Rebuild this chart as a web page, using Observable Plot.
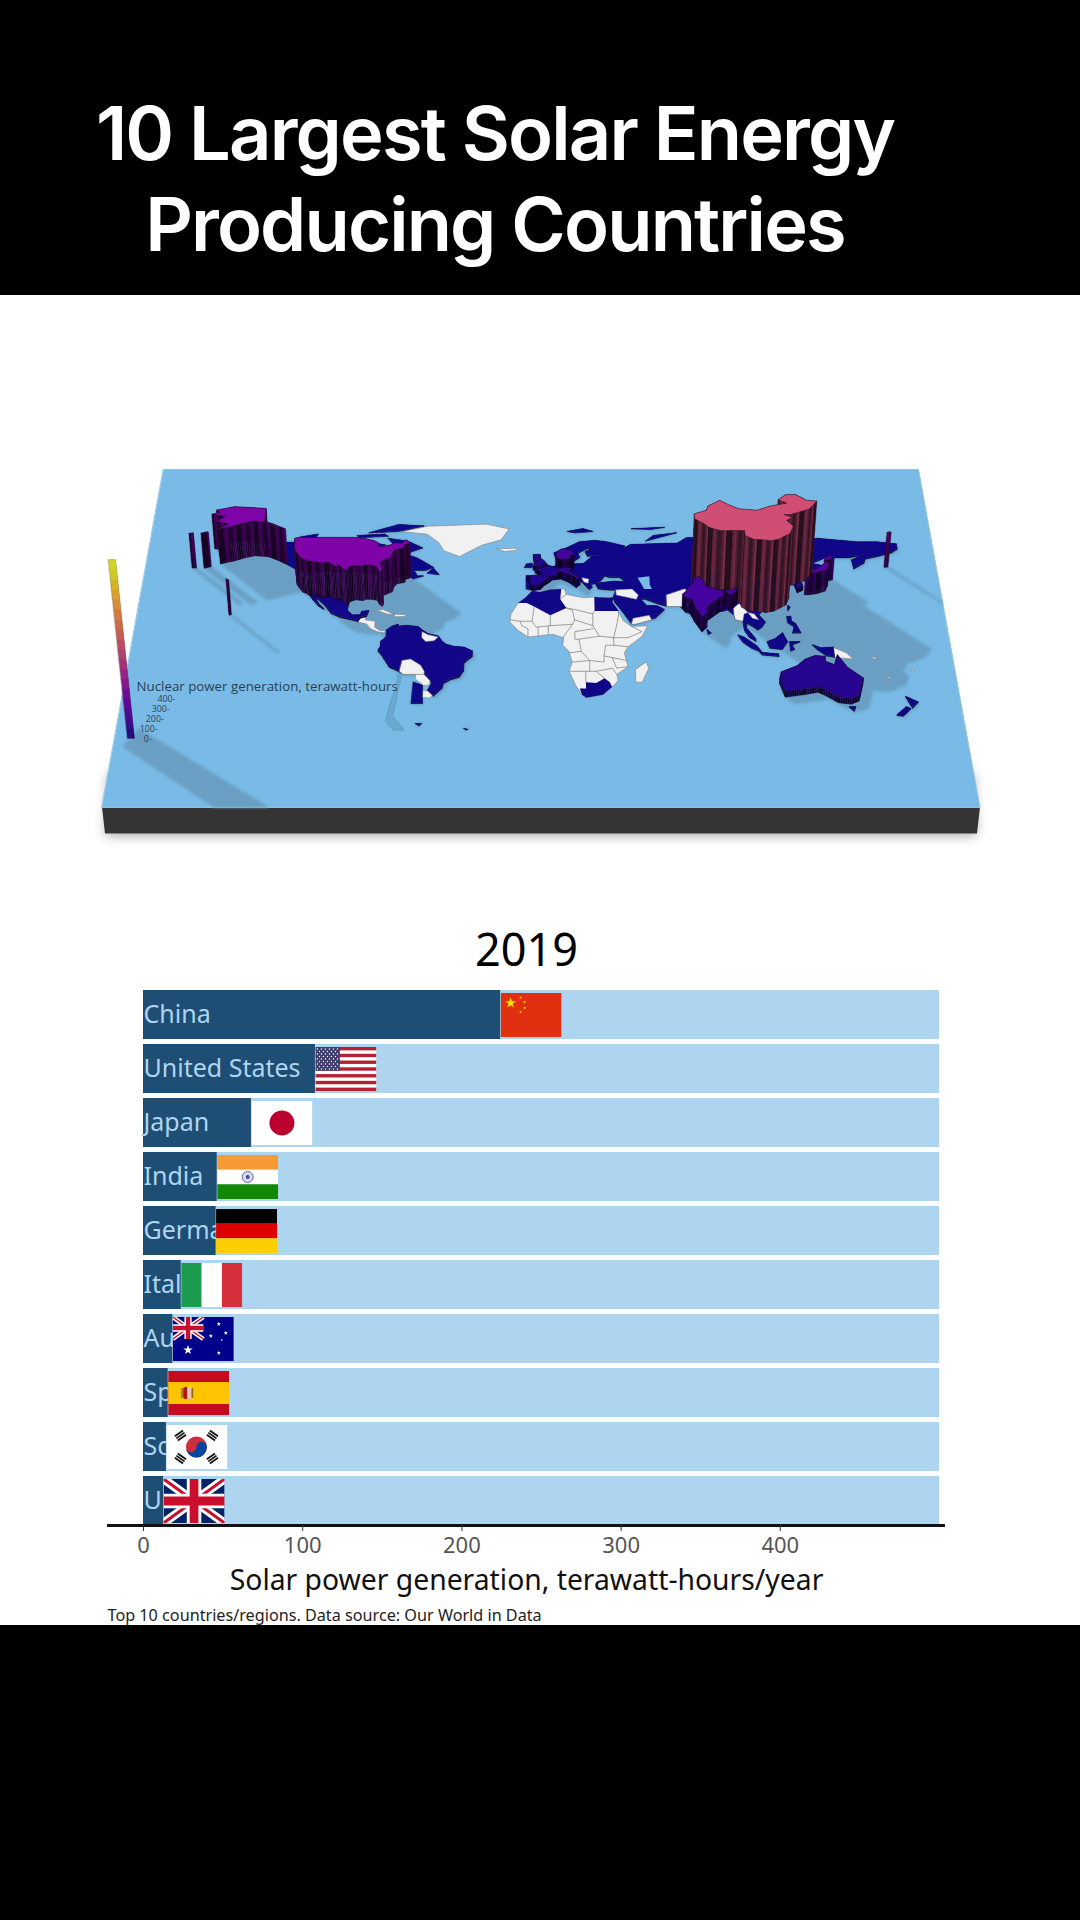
<!DOCTYPE html>
<html><head><meta charset="utf-8">
<script src="https://cdn.jsdelivr.net/npm/d3@7"></script>
<script src="https://cdn.jsdelivr.net/npm/@observablehq/plot@0.6"></script>
<style>
html,body{margin:0;padding:0;background:#fff;width:1080px;height:1920px;overflow:hidden}
#top,#bottom{position:absolute;left:0;width:1080px;background:#000;z-index:5}
#top{top:0;height:295px}
#bottom{top:1625px;height:295px}
#top div{position:absolute;left:0;width:990px;text-align:center;color:#fff;font:600 74px Inter,sans-serif;letter-spacing:-1.85px;line-height:91px;white-space:nowrap}
#map,#bars{position:absolute;left:0}
#map{top:440px}
#bars{top:925px}
svg{display:block;overflow:visible}
.soft{filter:blur(6px)}
.softer{filter:blur(1.6px)}
</style></head><body>
<div id="top"><div style="top:88px">10 Largest Solar Energy</div><div style="top:179px">Producing Countries</div></div>
<div id="map"></div><div id="bars"></div><div id="bottom"></div>
<script>
// ---- Bar data ----
const countries=["China","United States","Japan","India","Germany","Italy","Australia","Spain","South Korea","United Kingdom"];
const solarTWh=[224.3,108,67.8,46.3,45.6,23.7,18.4,15.5,14.4,12.6];
const xTicks=[0,100,200,300,400];
const yearLabel="2019";
const xMax=500;

// ---- Map outlines (lon, lat) ----
const greenland=[[-73,78],[-60,82],[-30,83.5],[-18,80],[-22,72],[-32,68],[-43,60],[-51,64],[-54,70],[-60,76]];
const iceland=[[-24,65.5],[-14,66],[-14,64.5],[-20,63.5]];
const africa=[[-6,35.8],[-2,35],[3,36.8],[10,37.3],[11,33.5],[15,32.3],[20,31],[25,31.5],[32,31],[34.5,31.3],[34,28],[37,21],[39,15.5],[43,11.5],[51,12],[48,5],[41,-2],[39,-6],[40.5,-15],[35,-20],[35.5,-24],[32.5,-28],[28,-33],[20,-34.8],[18,-33],[15,-27],[12,-18],[13.5,-12],[12,-5],[9,-1],[9.5,4],[4,6.3],[-4,5],[-8,4.5],[-13,9],[-17,14.5],[-16.5,20],[-13,27.5],[-9.5,31]];
const madagascar=[[49.5,-12],[50.5,-16],[47,-25],[44,-25],[44,-17]];
const centralAmerica=[[-92,14.6],[-91,17],[-88,18],[-88.5,16],[-83.5,15],[-83.5,11],[-81,9],[-77.5,8.5],[-79,7.5],[-82,8],[-85.5,10],[-87.5,13]];
const cuba=[[-85,22],[-80,23],[-74.5,20],[-77.5,19.8],[-82,22]];
const hispaniola=[[-74,19.8],[-69,19.5],[-68.5,18.3],[-74,18]];
const png=[[141,-2.5],[147,-6],[150,-10],[141,-9]];
const pacificIsles=[[[165,-21],[167,-22],[166,-22.5]],[[177,-17],[179,-18],[177.5,-18.5]],[[159,-8],[162,-10],[160,-10]]];
const whiteShapes=[greenland,iceland,africa,madagascar,centralAmerica,cuba,hispaniola,png,...pacificIsles];

const eurasia=[[5,62],[12,66],[18,70],[26,71],[32,70],[41,67],[40,65],[44,68],[54,68.5],[68,69],[73,73],[80,73],[90,75.5],[105,77.5],[113,74],[130,71],[140,72.5],[160,70],[170,70],[180,68.5],[180,65],[177,62.5],[170,60],[163,58],[162,55],[156.5,51],[156,57],[163,61],[155,59],[143,59],[135,54.5],[141,53],[140,48],[135,43.5],[130,42.5],[127.5,39.5],[129,36],[126.5,34.5],[126,37.5],[125,40],[121,39],[118,39],[122,37],[119,35],[122,31],[120,26],[114,22],[110,21],[108,21.5],[106,19],[109,14],[107,10.5],[105,9],[103,11],[100,13.5],[99.5,10],[103.5,3],[103.5,1.5],[100.5,4],[98.5,8.5],[98,15],[94.5,16],[94,19],[91,22.5],[87,21.5],[80,15],[80,11],[77.5,8],[73,18],[72,21],[67,25],[61,25],[57,26.5],[50,30],[48,29.5],[51,25],[56,25],[59.5,22.5],[55,17],[45,13],[43,13],[39,21],[35,28],[34.5,31],[36,36],[30,36.5],[27,37],[26,40],[29,41],[35,42],[41,41.5],[38,45],[33,45],[30.5,46],[28,42],[26,40.7],[23,40],[24,38],[22.5,36.5],[19.5,41],[14,45.5],[12.5,44],[18,40],[16,38],[12,42],[8.5,44],[4,43.5],[3,42],[0,39.5],[-2,36.8],[-5.5,36],[-9,37],[-9,43],[-2,43.5],[-1.5,46],[-4.5,48.3],[-1.5,49],[2,51],[4,52],[8,54],[8,57],[10.5,57.5],[10,54.5],[14,54],[20,54.5],[24,59],[30,60],[22,60],[21,63],[25,65.5],[22,65.5],[17,62],[18,59],[14,55.5],[11,59],[6,58]];
const canada=[[-141,69.7],[-128,70],[-115,68],[-108,68],[-95,68],[-94,72],[-85,69],[-81,68],[-87,64],[-94,60],[-92.5,57],[-85,55.3],[-82,52.5],[-79,51.5],[-79,55],[-76.5,57],[-78,62],[-70,61],[-65,59],[-61,56],[-56,52],[-60,50],[-66,50],[-65,48.5],[-64,46],[-61,46],[-66,44],[-67,45],[-69,47.3],[-71,45],[-75,45],[-76,44],[-79,43],[-82.5,42.5],[-82.5,45],[-84.5,46.5],[-89,48],[-95,49],[-123,49],[-130,54],[-133,56],[-137,58.9],[-141,60.3]];
const baffin=[[-80,73],[-70,71],[-62,66],[-68,63],[-75,65],[-78,70]];
const victoria=[[-117,73],[-105,73],[-102,69],[-115,69]];
const ellesmere=[[-90,77],[-75,83],[-62,82],[-75,78]];
const banks=[[-125,74],[-116,76],[-118,72],[-124,71.5]];
const devon=[[-96,75],[-82,76],[-80,74.5],[-95,73.5]];
const newfoundland=[[-59,48],[-53,47],[-56,51.5]];
const mexico=[[-117.1,32.5],[-114.8,32.5],[-111,31.3],[-106.5,31.8],[-104.5,29.7],[-103,29],[-101.5,29.8],[-99.5,27.5],[-97.3,26],[-97.8,22],[-95,18.5],[-91,18.7],[-90.5,21],[-87,21.5],[-88,18],[-91,17],[-92,14.6],[-96,16],[-101,17.5],[-105.5,20],[-109,25.5],[-112.5,29.5],[-114.5,31],[-112,26],[-109.5,23],[-112,25],[-115,29]];
const southAmerica=[[-77.5,8.5],[-75,11],[-72,12.2],[-71.5,11],[-68,11.5],[-62,10.7],[-60,8.5],[-57,6],[-52,4.5],[-50,1],[-48,-1],[-44,-2.5],[-39,-3],[-35,-5.5],[-35,-8.5],[-39,-13],[-39,-18],[-41,-22],[-45,-23.5],[-48.5,-26],[-49,-29],[-53,-34],[-56,-31],[-54,-26],[-55,-24],[-58,-20],[-68,-20],[-70.3,-18.3],[-75,-15.5],[-79,-8],[-81,-5],[-80,-2.5],[-80,1],[-78.5,2.5],[-77.5,4],[-77.5,7]];
const argentina=[[-63,-25],[-58.5,-27],[-58,-38.6],[-63.5,-38.6]];
const sumatra=[[95,5.5],[98,4],[104,-2],[106,-6],[101,-3],[97,1]];
const java=[[105,-6],[114,-7],[114,-8.5],[106,-7.5]];
const borneo=[[109,1],[113,3],[117,7],[119,1],[116,-4],[110,-3]];
const sulawesi=[[120,1],[125,1],[121,-1],[122,-4],[120,-5]];
const westPapua=[[131,-1],[135,-3],[141,-2.5],[141,-9],[137,-8],[133,-4]];
const philippines=[[120,18],[122,18],[122,15],[124,13],[126,7],[122,7],[123,11],[120,14]];
const sriLanka=[[80,9.5],[82,7],[80.5,6]];
const sakhalin=[[142,54],[143,50],[143,46],[142,50]];
const taiwan=[[121,25],[122,24],[120.8,22]];
const svalbard=[[12,78],[20,80],[25,78],[16,77]];
const novayaZemlya=[[52,71],[68,77],[56,75]];
const severnaya=[[95,79],[105,79],[100,81]];
const franzJosef=[[45,80],[62,81],[55,79.5]];
const ireland=[[-10,52],[-6,52],[-6,55],[-9,54.5]];
const falkland=[[-61,-51],[-58,-51],[-59,-52.5]];
const georgia=[[-38,-54],[-36,-54.5],[-37,-55]];
const nzNorth=[[172.5,-34.5],[178,-38],[175,-41.5],[174,-39]];
const nzSouth=[[172,-41],[174,-42],[170,-46.5],[167,-46]];
const tasmania=[[145,-41],[148,-41],[147,-43.5]];
const navyShapes=[[eurasia,3],[canada,1.5],[baffin,1],[victoria,1],[ellesmere,1],[banks,1],[devon,1],[newfoundland,1],[mexico,4],[southAmerica,4],[argentina,1],[sumatra,2],[java,2],[borneo,2],[sulawesi,2],[westPapua,2],[philippines,2],[sriLanka,1],[sakhalin,1],[taiwan,4],[svalbard,1],[novayaZemlya,1],[severnaya,1],[franzJosef,1],[ireland,1],[falkland,0.5],[georgia,0.5],[nzNorth,3],[nzSouth,3],[tasmania,3]];

const pakistan=[[61,25],[67,25],[71,24.5],[74,31],[74,36],[70,37],[61,33]];
const syriaIraq=[[36,33],[39,32],[46,30],[47,33],[44,37],[36,36.5]];
const yemen=[[43,13],[45,13],[53,16],[52,19],[44,17]];
const balkans=[[19,45],[22.5,44],[22,41],[20,42]];
const myanmar=[[94.5,16],[98,15],[99,20],[101,21],[97,27],[94,24],[94,19]];
const laos=[[101,21],[104,20],[106,16],[103,17]];
const bolivia=[[-69,-11],[-65,-10],[-60,-14],[-58,-18],[-58,-20],[-68,-20],[-70,-18]];
const paraguay=[[-62,-20],[-58,-20],[-55,-24],[-55.5,-27],[-58,-27],[-62,-23]];
const uruguay=[[-58,-30.5],[-56,-30.5],[-53.5,-33.5],[-55,-35],[-58,-34.5]];
const guianas=[[-60,8],[-57,6],[-52,4.5],[-54,2],[-58,1.5],[-60,4]];
const whiteOverlay=[pakistan,syriaIraq,yemen,balkans,myanmar,laos,bolivia,paraguay,uruguay,guianas];

const caspian=[[47,45],[53,46],[53,40],[54,37],[50,37],[49,40]];
const chile=[[-70,-18],[-69,-22],[-70,-30],[-71,-40],[-72,-46],[-68,-52],[-66,-55],[-71,-55],[-75,-50],[-74,-42],[-73,-36],[-71,-28],[-70.5,-20]];

const morocco=[[-6,35.8],[-2,35],[3,36.8],[8.5,37],[8,30],[11,24],[3,19],[-5,25],[-8.7,27.5],[-13,27.5],[-9.5,31]];
const egypt=[[25,31.5],[32,31],[34.5,31.3],[34,28],[37,22],[25,22]];
const southAfrica=[[17,-29],[20,-29],[20,-25],[25,-25.5],[29,-22.5],[31.5,-25],[32.5,-28],[28,-33],[20,-34.8],[18,-33]];
const africaNavy=[morocco,egypt,southAfrica];

const africaBorders=[
[[8,30],[11,33.5]],[[11,24],[15,23],[24,20],[25,22]],[[11,24],[14,22.5],[15,16],[14,13],[3,12],[3,19]],[[-5,25],[-6,15],[-12,15],[-17,16]],
[[-12,15],[-11,12],[-8,10],[-8,4.5]],[[-6,15],[-4,11],[3,12]],[[-3,11],[-3,5]],[[2,12],[2,6.3]],[[14,13],[9,4]],
[[15,16],[24,12],[24,20]],[[24,12],[27,5],[34,4],[36,14],[37,21]],[[24,10],[15,8],[15,3],[17,3],[27,5]],[[34,4],[41,4],[48,8],[43,11.5]],[[34,4],[34,-1],[41,-2]],
[[34,-1],[30,-1],[29,-8],[40,-11]],[[17,3],[18,-5],[12,-6]],[[18,-5],[22,-11],[29,-12],[29,-8]],[[13.5,-12],[22,-11],[22,-18],[12,-18]],
[[22,-18],[25,-18],[33,-16],[35,-20]],[[33,-9],[35,-16],[40.5,-15]],[[20,-18],[20,-25]],[[25,-18],[29,-22.5]]];

// Raised countries (value = TWh, height of the column)
const raised=[
 {name:"Aleutians W",value:108,rings:[[[172,52.5],[173.5,53],[173.9,52.5],[172.5,52.2]]]},
 {name:"Aleutians E",value:108,rings:[[[-172,52],[-169,53],[-168.5,52.7],[-171.8,51.6]],[[-178,51.8],[-176,52.2],[-176,51.7]]]},
 {name:"Alaska",value:108,rings:[[[-168,65.5],[-164,67],[-166,68.5],[-157,71],[-141,69.7],[-141,60.3],[-137,58.9],[-130,55],[-133,56],[-140,59.8],[-147,60.5],[-152,59],[-158,56.5],[-164,54.7],[-159,58.5],[-165,60.5],[-161,64]]]},
 {name:"United Kingdom",value:13,rings:[[[-5.5,50],[1.5,51.5],[0,54],[-2,56],[-2,58.5],[-5.5,58.5],[-5,55],[-3,54],[-5,52]]]},
 {name:"Germany",value:46,rings:[[[6,51],[7,53.5],[9,55],[14,54],[15,51],[12.5,50],[13.5,48.5],[10,47.5],[7.5,47.7],[6,49.5]]]},
 {name:"France",value:12,rings:[[[-4.5,48.3],[-1.5,49],[2,51],[6,49.5],[7.5,47.7],[7,44],[3,43],[-2,43.5],[-1.5,46]]]},
 {name:"Italy",value:24,rings:[[[7,44],[7,46],[12,47],[13.7,46],[12.5,44],[18,40.3],[16,38],[15.5,40],[12,42],[8.5,44]]]},
 {name:"Spain",value:15,rings:[[[-9,43],[-2,43.5],[3,42],[0,39.5],[-2,36.8],[-5.5,36],[-7,37],[-7,42]]]},
 {name:"United States",value:108,rings:[[[-124.7,48.4],[-123,49],[-95,49],[-89,48],[-84.5,46.5],[-82.5,45],[-82.5,42.5],[-79,43],[-76,44],[-75,45],[-71,45],[-69,47.3],[-67,45],[-70,43.5],[-70,41.7],[-74,40.6],[-75.5,38],[-76,35],[-78,34],[-81,32],[-81,30],[-80,26.5],[-80.5,25],[-82,26.5],[-83,29],[-85,29.7],[-89,30],[-90,29],[-94,29.5],[-97,28],[-97.3,26],[-99.5,27.5],[-101.5,29.8],[-103,29],[-104.5,29.7],[-106.5,31.8],[-111,31.3],[-114.8,32.5],[-117.1,32.5],[-119,34],[-121,35],[-122.5,37.5],[-124,40],[-124.5,43]]]},
 {name:"South Korea",value:14,rings:[[[126,37.7],[129,38],[129.3,36],[126.5,34.5]]]},
 {name:"Japan",value:68,rings:[[[140,42],[142,45.5],[145,43.5],[141,42]],[[130,33],[131,34.5],[136,36],[140,40],[141.5,41],[142,39],[140.5,35.5],[136,33.7],[132,33]]]},
 {name:"China",value:224,rings:[[[74,39.5],[80,42],[81,45],[87,49],[91,46],[96,43],[105,42],[112,45],[120,47],[116,49.5],[120,53],[125,53],[130,49],[135,48.5],[131,43],[124,40],[121,39],[118,39],[122,37],[119,35],[122,31],[120,26],[114,22],[110,21],[108,21.5],[102,22],[98,24.5],[98,28],[92,28],[86,28],[81,30],[78,33],[74,36]]]},
 {name:"India",value:46,rings:[[[68.5,23.5],[70,21],[73,20],[74,15],[77.5,8],[80,11],[80,15],[85,19.5],[87,21.5],[89,22],[88.5,26.5],[92,26],[96,28],[94,24],[91.5,23],[90,25.5],[86,26.5],[80.5,29],[79,32.5],[77,35.5],[74,34],[74,31],[71,27.5],[70,25]]]},
 {name:"Hawaii",value:108,rings:[[[-156.2,20.3],[-155,19.6],[-155.8,19]]]},
 {name:"Australia",value:18,rings:[[[114,-22],[122,-18],[126,-14],[131,-11.5],[136,-12],[135.5,-15],[140,-17.5],[142,-11],[146,-19],[153,-26],[150,-37],[146,-39],[140,-38],[135,-34],[131,-31.5],[124,-33],[115,-34.5],[113,-26]]]}
];

// Board and legend
const boardLon=[-201.6,198.4], boardLat=[124.8,-100.9], boardDepth=-81;
const legendLevels=[0,25,50,75,100,125,150,175,200,225,250,275,300,325,350,375,400,425,450];
const legendBar={lon:[-195.5,-192.3],lat:-60,lift:1.24};
const legendShadow=[[-197.2,-65],[-191,-54],[-125.4,-100.9],[-150.4,-100.9]];
const legendTitle={text:"Nuclear power generation, terawatt-hours",lon:-195.6,lat:-27.8};
const legendTicks=[0,100,200,300,400];
const legendTickLon=[-184.1,-182.1,-180,-178,-176];
const legendTickLat=[-60.7,-54.5,-48.3,-42.1,-35.9];
const colorMax=430;
const wallShades=[.42,.18,.55,.28,.12,.48,.22,.62,.15,.36];

// ---- Perspective projection: lon, lat, height -> picture ----
const K=.14, CX=540.5;
function place(lon,lat,z=0){
  const u=.504+.0025*lon, v=.553-.00443*lat;
  let x=CX+(u-.5)*755/(1-K*v), y=29+338*v*(1-K)/(1-K*v);
  const lift=z*.32;
  x=CX+(x-CX)*(1+lift*.00026); y-=lift;
  return [x,y];
}
const perspective=d3.geoTransform({point(lon,lat,z){const p=place(lon,lat,z||0);this.stream.point(p[0],p[1]);}});
const poly=(ring)=>({type:"Polygon",coordinates:[[...ring,ring[0]]]});

// geometry builders
function subdivide(ring,step=1){
  const out=[];
  ring.forEach((a,i)=>{
    const b=ring[(i+1)%ring.length];
    const n=Math.max(1,Math.ceil(Math.hypot(b[0]-a[0],b[1]-a[1])/step));
    for(let j=0;j<n;j++) out.push([a[0]+(b[0]-a[0])*j/n,a[1]+(b[1]-a[1])*j/n]);
  });
  return out;
}
function walls(c){
  const out=[];
  const bands=c.value>30?5:1;
  c.rings.forEach(r=>{
    const s=subdivide(r);
    const edges=s.map((a,i)=>({a,b:s[(i+1)%s.length],i}));
    edges.sort((p,q)=>(q.a[1]+q.b[1])-(p.a[1]+p.b[1]));
    const top=d3.interpolatePlasma(c.value/colorMax);
    edges.forEach(({a,b,i})=>{
      for(let k=0;k<bands;k++){
        const z0=c.value*k/bands, z1=c.value*(k+1)/bands;
        const t=wallShades[(i*3)%wallShades.length]*(c.value>150?.95:.95-.25*(bands-1-k)/bands);
        out.push({color:d3.interpolateRgb("#07040d",top)(t),
          geometry:poly([[a[0],a[1],z0],[b[0],b[1],z0],[b[0],b[1],z1],[a[0],a[1],z1]])});
      }
    });
  });
  return out;
}
const tops=c=>c.rings.map(r=>({value:c.value,geometry:poly(r.map(p=>[p[0],p[1],c.value]))}));
function shadows(c){
  const dlon=c.value*.24, dlat=-c.value*.233, out=[];
  const sh=p=>[Math.min(p[0]+dlon,boardLon[1]),Math.max(p[1]+dlat,boardLat[1])];
  c.rings.forEach(r=>{
    out.push({geometry:poly(r)},{geometry:poly(r.map(sh))});
    r.forEach((a,i)=>{const b=r[(i+1)%r.length];out.push({geometry:poly([a,b,sh(b),sh(a)])});});
  });
  return out;
}
const navyRaised=navyShapes.map(([r,v])=>({value:v,rings:[r]}));
const allRaised=[...navyRaised,...raised];
const shadowData=[...allRaised.flatMap(shadows),{geometry:poly(legendShadow)}];

const boardRing=[[boardLon[0],boardLat[0]],[boardLon[1],boardLat[0]],[boardLon[1],boardLat[1]],[boardLon[0],boardLat[1]]];
const sideRing=[[boardLon[0],boardLat[1]],[boardLon[1],boardLat[1]],[boardLon[1],boardLat[1],boardDepth],[boardLon[0],boardLat[1],boardDepth]];
const glowRing=[[boardLon[0],boardLat[1]+20],[boardLon[1],boardLat[1]+20],[boardLon[1],boardLat[1],boardDepth-8],[boardLon[0],boardLat[1],boardDepth-8]];

const legendSegments=d3.pairs(legendLevels).map(([a,b])=>({value:(a+b)/2,
  geometry:poly([[legendBar.lon[0],legendBar.lat,a*legendBar.lift],[legendBar.lon[1],legendBar.lat,a*legendBar.lift],[legendBar.lon[1],legendBar.lat,b*legendBar.lift],[legendBar.lon[0],legendBar.lat,b*legendBar.lift]])}));

const geo=(data,o)=>Plot.geo(data,{geometry:d=>d.geometry,...o});
const wallFill={value:d=>d.color,scale:null};

const mapMarks=[
  Plot.geo([poly(glowRing)],{fill:"#000",opacity:.32,className:"soft"}),
  Plot.geo([poly(sideRing)],{fill:"#343434"}),
  Plot.geo([poly(boardRing)],{fill:"#79bbe6",stroke:"#8fc6e6",strokeWidth:1}),
  geo(shadowData,{fill:"#6a9fc3",stroke:"#6a9fc3",strokeWidth:.4,className:"softer"}),
  Plot.geo([poly(chile)],{fill:"#6aaad2",stroke:"#5f97b8",strokeWidth:.8}),
  Plot.geo(whiteShapes.map(poly),{fill:"#f1f1f1",stroke:"#8a8a8a",strokeWidth:.7}),
  Plot.geo([{type:"MultiLineString",coordinates:africaBorders}],{stroke:"#8a8a8a",strokeWidth:.8,fill:"none"}),
  Plot.geo(africaNavy.map(poly),{fill:"#100786"}),
  ...navyRaised.flatMap(c=>[geo(walls(c),{fill:wallFill,stroke:wallFill,strokeWidth:.3}),geo(tops(c),{fill:"value"})]),
  Plot.geo([poly(caspian)],{fill:"#79bbe6"}),
  Plot.geo(whiteOverlay.map(poly),{fill:"#f1f1f1",stroke:"#8a8a8a",strokeWidth:.5}),
  ...raised.flatMap(c=>[geo(walls(c),{fill:wallFill,stroke:wallFill,strokeWidth:.3}),geo(tops(c),{fill:"value",stroke:"#16101c",strokeWidth:.4})]),
  geo(legendSegments,{fill:"#333",stroke:"#333",strokeWidth:.3}),
  geo(legendSegments,{fill:"value",stroke:"value",strokeWidth:.3,opacity:.82}),
  Plot.text([legendTitle],{x:"lon",y:"lat",text:"text",textAnchor:"start",fontSize:13.3,fill:"#2b3f52",fontFamily:"'Open Sans'"}),
  Plot.text(legendTicks,{x:(d,i)=>legendTickLon[i],y:(d,i)=>legendTickLat[i],text:d=>d+"-",textAnchor:"end",fontSize:8.8,fill:"#2b3f52",fontFamily:"'Open Sans'"})
];
document.getElementById("map").append(Plot.plot({
  width:1080,height:420,margin:0,projection:perspective,
  color:{type:"linear",scheme:"plasma",domain:[0,colorMax]},
  style:{background:"transparent",overflow:"visible"},
  marks:mapMarks
}));

// ---- Flags ----
const star=(cx,cy,r,fill)=>{let p=[];for(let i=0;i<10;i++){const a=-Math.PI/2+i*Math.PI/5,q=i%2?r*.4:r;p.push((cx+q*Math.cos(a)).toFixed(2)+","+(cy+q*Math.sin(a)).toFixed(2));}return `<polygon points="${p.join(" ")}" fill="${fill}"/>`;};
const ukFlag=(w,h)=>`<rect width="${w}" height="${h}" fill="#012169"/><path d="M0 0L${w} ${h}M${w} 0L0 ${h}" stroke="#fff" stroke-width="${h*.2}"/><path d="M0 0L${w} ${h}M${w} 0L0 ${h}" stroke="#c8102e" stroke-width="${h*.07}"/><path d="M${w/2} 0V${h}M0 ${h/2}H${w}" stroke="#fff" stroke-width="${h*.33}"/><path d="M${w/2} 0V${h}M0 ${h/2}H${w}" stroke="#c8102e" stroke-width="${h*.2}"/>`;
const usFlag=()=>{let s=`<rect width="61" height="44" fill="#fff"/>`;for(let i=0;i<7;i++)s+=`<rect y="${i*44/6.5}" width="61" height="${44/13}" fill="#b22234"/>`;s+=`<rect width="24.4" height="23.7" fill="#3c3b6e"/>`;for(let r=0;r<9;r++)for(let c=0;c<(r%2?5:6);c++)s+=`<circle cx="${2+c*4+(r%2?2:0)}" cy="${2+r*2.5}" r=".75" fill="#fff"/>`;return s;};
const trigram=(x,y,rot)=>{let s=`<g transform="translate(${x} ${y}) rotate(${rot})">`;for(let i=-1;i<=1;i++)s+=`<rect x="-5" y="${i*2.6-.9}" width="10" height="1.8" fill="#111"/>`;return s+"</g>";};
const flagSvg={
 "China":`<rect width="61" height="44" fill="#e1300f"/>`+star(10,10,5.5,"#ffde00")+star(20,4.5,1.6,"#ffde00")+star(24,9,1.6,"#ffde00")+star(24,15,1.6,"#ffde00")+star(20,19,1.6,"#ffde00"),
 "United States":usFlag(),
 "Japan":`<rect width="61" height="44" fill="#fff"/><circle cx="30.5" cy="22" r="12.5" fill="#bc002d"/>`,
 "India":`<rect width="61" height="14.7" fill="#f79a33"/><rect y="14.7" width="61" height="14.7" fill="#fff"/><rect y="29.3" width="61" height="14.7" fill="#138808"/><circle cx="30.5" cy="22" r="5.5" fill="#d8d8f0" stroke="#6a6aa8" stroke-width="1"/><circle cx="30.5" cy="22" r="2" fill="#4a4a98"/>`,
 "Germany":`<rect width="61" height="14.7" fill="#000"/><rect y="14.7" width="61" height="14.7" fill="#dd0000"/><rect y="29.3" width="61" height="14.7" fill="#ffce00"/>`,
 "Italy":`<rect width="20.4" height="44" fill="#1b9c4e"/><rect x="20.4" width="20.4" height="44" fill="#fff"/><rect x="40.7" width="20.4" height="44" fill="#d5303c"/>`,
 "Australia":`<rect width="61" height="44" fill="#00008b"/>`+ukFlag(30.5,22).replace('fill="#012169"','fill="#00008b"')+star(15.2,33,5,"#fff")+star(46,7,2.2,"#fff")+star(38,19,2.2,"#fff")+star(53,16,2.2,"#fff")+star(46,36,2.2,"#fff")+star(49,23,1.2,"#fff"),
 "Spain":`<rect width="61" height="44" fill="#c60b1e"/><rect y="11" width="61" height="22" fill="#ffc400"/><rect x="15" y="16" width="8" height="12" rx="2" fill="#ad1519"/><rect x="19" y="16" width="4" height="12" fill="#e8c8b0"/><rect x="13" y="17" width="1.5" height="10" fill="#8a6d14"/><rect x="23.5" y="17" width="1.5" height="10" fill="#8a6d14"/>`,
 "South Korea":`<rect width="61" height="44" fill="#fff"/><circle cx="30" cy="22" r="10.5" fill="#cd2e3a"/><path d="M19.5 22a5.25 5.25 0 0 0 10.5 0a5.25 5.25 0 0 1 10.5 0a10.5 10.5 0 0 1 -21 0" fill="#0047a0"/>`+trigram(14,10.5,-35)+trigram(46,10.5,35)+trigram(14,33.5,35)+trigram(46,33.5,-35),
 "United Kingdom":ukFlag(61,44)
};
const flagSrc=n=>"data:image/svg+xml,"+encodeURIComponent(`<svg xmlns="http://www.w3.org/2000/svg" viewBox="0 0 61 44" preserveAspectRatio="none">${flagSvg[n]}</svg>`);

const rows=countries.map((name,i)=>({name,value:solarTWh[i]}));
const last=countries[countries.length-1];
document.getElementById("bars").append(Plot.plot({
  width:1080,height:700,marginTop:65,marginBottom:100,marginLeft:143,marginRight:141,
  style:{background:"transparent",overflow:"visible",fontFamily:"'Noto Sans'"},
  x:{domain:[0,xMax],label:null},
  y:{domain:countries,paddingInner:.1,paddingOuter:0,axis:null,label:null},
  marks:[
    Plot.barX(rows,{x1:0,x2:xMax,y:"name",fill:"#aed5f0"}),
    Plot.barX(rows,{x1:0,x2:"value",y:"name",fill:"#1f4e74"}),
    Plot.text(rows,{x:0,y:"name",text:"name",textAnchor:"start",fontSize:25,fill:"#aed5f0"}),
    Plot.image(rows,{x:"value",y:"name",dx:30.5,src:d=>flagSrc(d.name),width:61,height:44,preserveAspectRatio:"none"}),
    Plot.ruleY([last],{x1:-22.6,x2:503.8,stroke:"#111",strokeWidth:3,dy:24.5}),
    Plot.axisX({ticks:xTicks,tickSize:6,tickPadding:6,fontSize:22,color:"#555",label:null,stroke:"#333",tickFormat:d=>String(d)}),
    Plot.text([yearLabel],{x:240.6,frameAnchor:"top",dy:-25,lineAnchor:"bottom",fontSize:45,fill:"#000"}),
    Plot.text(["Solar power generation, terawatt-hours/year"],{x:240.6,frameAnchor:"bottom",dy:64,lineAnchor:"bottom",fontSize:28.3,fill:"#111"}),
    Plot.text(["Top 10 countries/regions. Data source: Our World in Data"],{x:-22.6,frameAnchor:"bottom",dy:95.6,lineAnchor:"bottom",textAnchor:"start",fontSize:16.2,fill:"#222"})
  ]
}));
</script></body></html>
